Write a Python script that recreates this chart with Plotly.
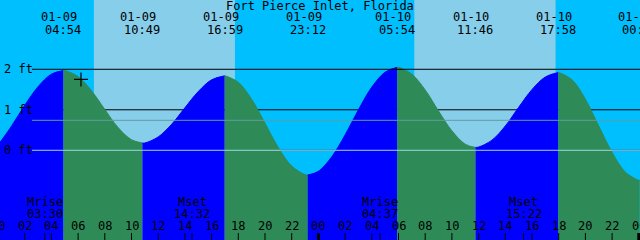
import plotly.graph_objects as go

# ---------------- data ----------------
title = "Fort Pierce Inlet, Florida"

hours = list(range(49))  # hours since 01-09 00:00
tide_ft = [0.13, 0.59, 1.11, 1.57, 1.88, 1.97, 1.82, 1.47, 1.01, 0.56,
           0.26, 0.18, 0.33, 0.64, 1.05, 1.45, 1.74, 1.84, 1.68, 1.26,
           0.67, 0.07, -0.39, -0.60, -0.52, -0.16, 0.38, 1.00, 1.56, 1.93,
           2.05, 1.88, 1.49, 0.97, 0.48, 0.15, 0.08, 0.25, 0.60, 1.06,
           1.50, 1.81, 1.92, 1.74, 1.26, 0.60, -0.05, -0.54, -0.74]

ext_day = [0, 0, 0, 0, 1, 1, 1, 2]
ext_date = ["01-09", "01-09", "01-09", "01-09", "01-10", "01-10", "01-10", "01-11"]
ext_time = ["04:54", "10:49", "16:59", "23:12", "05:54", "11:46", "17:58", "00:04"]
ext_ft = [1.97, 0.18, 1.84, -0.61, 2.05, 0.07, 1.92, -0.74]

sun_day = [0, 0, 1, 1]
sun_time = ["07:11", "17:45", "07:11", "17:46"]

moon_day = [0, 0, 1, 1]
moon_kind = ["Mrise", "Mset", "Mrise", "Mset"]
moon_time = ["03:30", "14:32", "04:37", "15:22"]

level_ticks = [2, 1, 0]
level_labels = ["2 ft", "1 ft", "0 ft"]
mark_levels = [0.74, 0.0]

now_hour_time = (0, "06:13")
now_ft = 1.75

# ---------------- helpers ----------------
def to_h(day, hm):
    hh, mm = hm.split(":")
    return day * 24 + int(hh) + int(mm) / 60.0

ext_hours = [to_h(d, t) for d, t in zip(ext_day, ext_time)]
sun_hours = [to_h(d, t) for d, t in zip(sun_day, sun_time)]
moon_hours = [to_h(d, t) for d, t in zip(moon_day, moon_time)]
now_hour = to_h(*now_hour_time)

X0, X1 = 0.15, 48.09
Y0, Y1 = -2.215, 3.711
W, H = 640, 240
PXH = W / (X1 - X0)

NIGHT = "#00BFFF"
DAY = "#87CEEB"
FLOOD = "#0000FF"
EBB = "#2E8B57"
FONT = "DejaVu Sans Mono"

def py(px):
    return 1 - px / H

def xpos(h):
    """clamp to visible range, returning (x, extra pixel shift)"""
    if h < X0:
        return X0, (h - X0) * PXH
    if h > X1:
        return X1, (h - X1) * PXH
    return h, 0

fig = go.Figure()

# ---------------- tide fill segments ----------------
pts = sorted(zip(hours + ext_hours, tide_ft + ext_ft))
bounds = [hours[0]] + ext_hours
for i in range(len(bounds) - 1):
    t0, t1 = bounds[i], bounds[i + 1]
    seg = [(x, y) for x, y in pts if t0 - 1e-9 <= x <= t1 + 1e-9]
    xs = [p[0] for p in seg]
    ys = [p[1] for p in seg]
    color = FLOOD if ys[-1] > ys[0] else EBB
    fig.add_trace(go.Scatter(x=xs, y=[Y0 - 1] * len(xs), mode="lines",
                             line=dict(width=0), hoverinfo="skip",
                             showlegend=False))
    fig.add_trace(go.Scatter(x=xs, y=ys, mode="lines", fill="tonexty",
                             fillcolor=color,
                             line=dict(color=color, width=1, shape="spline"),
                             hoverinfo="skip", showlegend=False))

# current time marker
fig.add_trace(go.Scatter(x=[now_hour], y=[now_ft], mode="markers",
                         marker=dict(symbol="cross-thin", size=10,
                                     line=dict(color="black", width=1.2)),
                         hoverinfo="skip", showlegend=False))

shapes = []
# day bands
for a, b in zip(sun_hours[0::2], sun_hours[1::2]):
    shapes.append(dict(type="rect", xref="x", yref="paper", x0=a, x1=b,
                       y0=0, y1=1, fillcolor=DAY, line=dict(width=0),
                       layer="below"))
# level lines
for lv in level_ticks:
    shapes.append(dict(type="line", xref="paper", yref="y", x0=32 / W, x1=1,
                       y0=lv, y1=lv, line=dict(color="black", width=1),
                       layer="above" if lv == 2 else "below"))
mark_colors = ["#5F9EA0", "#9FD3EA"]
for lv, c in zip(mark_levels, mark_colors):
    shapes.append(dict(type="line", xref="paper", yref="y", x0=32 / W, x1=1,
                       y0=lv, y1=lv, line=dict(color=c, width=1),
                       layer="above"))
# bottom tick marks
for h in range(0, 49, 2):
    shapes.append(dict(type="line", xref="x", yref="paper", x0=h, x1=h,
                       y0=0, y1=7 / H,
                       line=dict(color="black", width=3 if h % 24 == 0 else 1),
                       layer="above"))
for mh in moon_hours:
    shapes.append(dict(type="line", xref="x", yref="paper", x0=mh, x1=mh,
                       y0=0, y1=7 / H, line=dict(color="black", width=1),
                       layer="above"))

ann = []
fs = 12
ann.append(dict(text=title, xref="paper", yref="paper", x=0.5, y=py(6),
                xanchor="center", yanchor="middle", showarrow=False,
                font=dict(size=fs)))
for eh, d, t in zip(ext_hours, ext_date, ext_time):
    x, s = xpos(eh)
    ann.append(dict(text=d, xref="x", yref="paper", x=x, y=py(17.5),
                    xanchor="center", yanchor="middle", xshift=s - 4,
                    showarrow=False, font=dict(size=fs)))
    ann.append(dict(text=t, xref="x", yref="paper", x=x, y=py(30),
                    xanchor="center", yanchor="middle", xshift=s,
                    showarrow=False, font=dict(size=fs)))
for lv, lab in zip(level_ticks, level_labels):
    ann.append(dict(text=lab, xref="paper", yref="y", x=2 / W, y=lv,
                    xanchor="left", yanchor="middle", showarrow=False,
                    font=dict(size=fs)))
for mh, k, t in zip(moon_hours, moon_kind, moon_time):
    x, s = xpos(mh)
    ann.append(dict(text=k, xref="x", yref="paper", x=x, y=py(201.5),
                    xanchor="center", yanchor="middle", xshift=s,
                    showarrow=False, font=dict(size=fs)))
    ann.append(dict(text=t, xref="x", yref="paper", x=x, y=py(213.5),
                    xanchor="center", yanchor="middle", xshift=s,
                    showarrow=False, font=dict(size=fs)))
for h in range(0, 49, 2):
    x, s = xpos(h)
    ann.append(dict(text=f"{h % 24:02d}", xref="x", yref="paper", x=x,
                    y=py(226), xanchor="center", yanchor="middle", xshift=s,
                    showarrow=False, font=dict(size=fs)))

fig.update_layout(
    width=W, height=H, margin=dict(l=0, r=0, t=0, b=0, pad=0),
    paper_bgcolor=NIGHT, plot_bgcolor=NIGHT,
    font=dict(family=FONT, size=fs, color="black"),
    xaxis=dict(range=[X0, X1], visible=False, fixedrange=True),
    yaxis=dict(range=[Y0, Y1], visible=False, fixedrange=True),
    shapes=shapes, annotations=ann, showlegend=False,
)

fig.write_html("out.html", config={"displayModeBar": False})
